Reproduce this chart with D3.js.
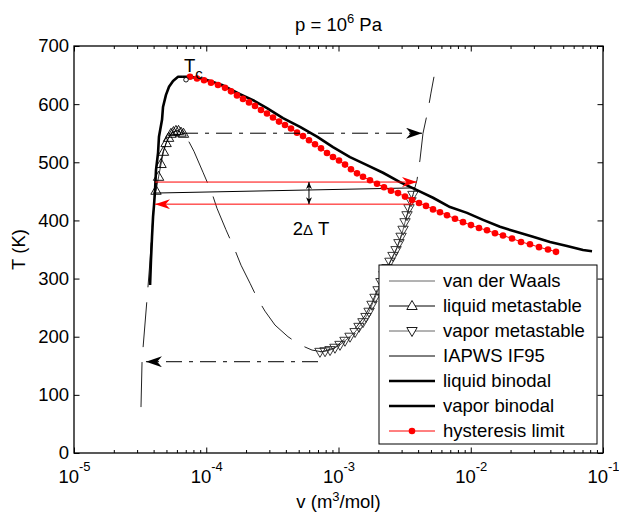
<!DOCTYPE html>
<html>
<head>
<meta charset="utf-8">
<script src="https://cdn.jsdelivr.net/npm/d3@7"></script>
<style>
  body { margin: 0; background: #fff; }
  svg { display: block; font-family: "Liberation Sans", Arial, Helvetica, sans-serif; }
</style>
</head>
<body>
<div id="chart"></div>
<script>
/* Data: v in m^3/mol, T in K */
const vdwV = [3.21e-5, 3.27e-5, 3.33e-5, 3.56e-5, 3.76e-5, 3.95e-5, 4.09e-5, 4.25e-5, 4.47e-5, 4.71e-5,
  5.05e-5, 5.41e-5, 5.81e-5, 6.22e-5, 6.79e-5, 7.41e-5, 8.07e-5, 9.44e-5, 1.104e-4, 1.205e-4,
  1.409e-4, 1.648e-4, 1.832e-4, 2.143e-4, 2.421e-4, 2.780e-4, 3.311e-4, 4.150e-4, 5.117e-4, 6.310e-4,
  7.499e-4, 9.397e-4, 1.159e-3, 1.380e-3, 1.585e-3, 1.791e-3, 1.991e-3, 2.208e-3, 2.541e-3, 2.767e-3,
  2.972e-3, 3.184e-3, 3.412e-3, 3.656e-3, 3.926e-3, 4.130e-3, 4.355e-3, 4.753e-3, 5.000e-3, 5.272e-3]
const vdwT = [79, 157, 182, 263, 332, 406, 447, 470, 495, 518,
  537, 549, 554, 554, 547, 535, 519, 483, 447, 421,
  384, 349, 323, 292, 267, 244, 220, 200, 186, 177,
  174, 181, 200, 218, 236, 258, 284, 306, 335, 353,
  373, 397, 421, 444, 470, 504, 550, 590, 619, 647]

const liqMetaV = [4.17e-5, 4.36e-5, 4.55e-5, 4.75e-5, 4.97e-5, 5.19e-5, 5.41e-5, 5.65e-5, 5.90e-5, 6.17e-5, 6.44e-5, 6.73e-5]
const liqMetaT = [451, 475, 497, 518, 533, 542, 549, 552, 554, 554, 551, 549]

const vapMetaV = [7.24e-4, 7.91e-4, 8.63e-4, 9.40e-4, 1.026e-3, 1.119e-3, 1.222e-3, 1.334e-3, 1.429e-3, 1.531e-3,
  1.614e-3, 1.703e-3, 1.791e-3, 1.888e-3, 1.991e-3, 2.094e-3, 2.208e-3, 2.328e-3, 2.449e-3, 2.582e-3,
  2.723e-3, 2.864e-3, 2.972e-3, 3.077e-3, 3.184e-3, 3.296e-3, 3.412e-3, 3.532e-3, 3.656e-3]
const vapMetaT = [174, 175, 177, 181, 186, 193, 200, 208, 217, 225,
  234, 243, 255, 267, 280, 294, 306, 318, 329, 339,
  349, 361, 372, 384, 397, 409, 421, 433, 444]

const iapwsV = [3.96e-5, 3.79e-3]
const iapwsT = [447, 456]

const liqBinV = [6.56e-5, 6.12e-5, 5.61e-5, 5.23e-5, 4.96e-5, 4.71e-5, 4.63e-5, 4.39e-5, 4.32e-5, 4.17e-5, 4.10e-5, 4.03e-5, 3.96e-5, 3.89e-5, 3.82e-5, 3.76e-5]
const liqBinT = [647, 647, 640, 630, 616, 595, 573, 544, 516, 487, 452, 427, 406, 372, 332, 289]

const vapBinV = [6.56e-5, 7.54e-5, 9.96e-5, 1.315e-4, 1.799e-4, 2.257e-4, 2.879e-4, 3.804e-4, 5.116e-4, 6.879e-4,
  9.087e-4, 1.222e-3, 1.643e-3, 2.170e-3, 2.917e-3, 3.924e-3, 5.183e-3, 6.968e-3, 9.368e-3, 1.238e-2,
  1.664e-2, 2.237e-2, 2.956e-2, 3.975e-2, 5.344e-2, 7.062e-2, 8.259e-2]
const vapBinT = [647, 647, 642, 633, 617, 607, 593, 576, 561, 544,
  526, 509, 495, 482, 466, 452, 439, 423, 413, 401,
  389, 380, 372, 363, 356, 349, 347]

const hystV = [7.54e-5, 8.51e-5, 9.62e-5, 1.086e-4, 1.227e-4, 1.386e-4, 1.539e-4, 1.708e-4, 1.896e-4, 2.105e-4,
  2.337e-4, 2.594e-4, 2.879e-4, 3.196e-4, 3.549e-4, 3.939e-4, 4.374e-4, 4.856e-4, 5.390e-4, 5.984e-4,
  6.643e-4, 7.375e-4, 8.185e-4, 9.087e-4, 1.009e-3, 1.120e-3, 1.243e-3, 1.380e-3, 1.532e-3, 1.731e-3,
  1.955e-3, 2.208e-3, 2.495e-3, 2.818e-3, 3.184e-3, 3.596e-3, 4.062e-3, 4.588e-3, 5.183e-3, 5.855e-3,
  6.614e-3, 7.602e-3, 8.738e-3, 1.004e-2, 1.154e-2, 1.327e-2, 1.525e-2, 1.753e-2, 2.051e-2, 2.399e-2,
  2.805e-2, 3.282e-2, 3.838e-2, 4.412e-2]
const hystT = [647, 644, 641, 637, 633, 628, 622, 615, 609, 603,
  597, 590, 584, 577, 570, 564, 558, 551, 545, 538,
  531, 524, 516, 509, 503, 496, 488, 481, 475, 469,
  463, 457, 451, 447, 441, 435, 430, 425, 419, 414,
  409, 403, 397, 392, 387, 383, 378, 374, 369, 363,
  359, 354, 350, 346]

/* annotations: [vStart, vEnd, T] */
const hystUpArrow = [4.10e-5, 3.92e-3, 466]
const hystDownArrow = [3.66e-3, 4.10e-5, 428]
const liqJumpArrow = [6.56e-5, 4.28e-3, 550]
const vapJumpArrow = [7.0e-4, 3.50e-5, 157]
const deltaArrow = [5.98e-4, 466, 428]   // v, T1, T2
const deltaLabel = [6.2e-4, 375]
const critPoint = [7.03e-5, 642]

const xTicks = [1e-5, 1e-4, 1e-3, 1e-2, 1e-1]
const xTickExp = ["-5", "-4", "-3", "-2", "-1"]
const yTicks = [0, 100, 200, 300, 400, 500, 600, 700]
const legendLabels = ["van der Waals", "liquid metastable", "vapor metastable", "IAPWS IF95",
  "liquid binodal", "vapor binodal", "hysteresis limit"]

/* Layout */
const WIDTH = 619
const HEIGHT = 515
const AX = {left: 74, right: 603, top: 46, bottom: 453}
const FONT = 18.5
const TICK = 5.5
const MINOR = 3

const svg = d3.select("#chart").append("svg")
  .attr("width", WIDTH)
  .attr("height", HEIGHT)

const x = d3.scaleLog().domain([1e-5, 1e-1]).range([AX.left, AX.right])
const y = d3.scaleLinear().domain([0, 700]).range([AX.bottom, AX.top])
const line = d3.line().x(d => x(d[0])).y(d => y(d[1]))

const defs = svg.append("defs")
defs.append("clipPath").attr("id", "plotclip")
  .append("rect")
  .attr("x", AX.left).attr("y", AX.top)
  .attr("width", AX.right - AX.left).attr("height", AX.bottom - AX.top)

const addHead = (id, w, h, color, orient) => {
  defs.append("marker")
    .attr("id", id)
    .attr("viewBox", `0 0 ${w} ${h}`)
    .attr("markerWidth", w).attr("markerHeight", h)
    .attr("markerUnits", "userSpaceOnUse")
    .attr("refX", w).attr("refY", h / 2)
    .attr("orient", orient)
    .append("path")
    .attr("d", `M0,0 L${w},${h / 2} L0,${h} L${w * 0.3},${h / 2} Z`)
    .attr("fill", color)
}
addHead("headBlack", 16, 11, "#000", "auto")
addHead("headRed", 15, 10, "#f00", "auto")
addHead("headSmall", 7, 6, "#000", "auto-start-reverse")

const triUp = "M0,-5.5L5.2,3.5L-5.2,3.5Z"
const triDown = "M0,5.5L5.2,-3.5L-5.2,-3.5Z"

const plot = svg.append("g").attr("clip-path", "url(#plotclip)")

/* van der Waals isobar (long dashes) */
plot.append("path")
  .datum(d3.zip(vdwV, vdwT))
  .attr("d", line)
  .attr("fill", "none")
  .attr("stroke", "#222")
  .attr("stroke-width", 1)
  .attr("stroke-dasharray", "45,15")

/* metastable branches */
plot.append("path")
  .datum(d3.zip(liqMetaV, liqMetaT))
  .attr("d", line)
  .attr("fill", "none").attr("stroke", "#000").attr("stroke-width", 0.8)
plot.selectAll(".liqmeta")
  .data(d3.zip(liqMetaV, liqMetaT))
  .enter().append("path")
  .attr("class", "liqmeta")
  .attr("transform", d => `translate(${x(d[0])},${y(d[1])})`)
  .attr("d", triUp)
  .attr("fill", "none").attr("stroke", "#000").attr("stroke-width", 0.9)

plot.append("path")
  .datum(d3.zip(vapMetaV, vapMetaT))
  .attr("d", line)
  .attr("fill", "none").attr("stroke", "#333").attr("stroke-width", 0.8)
plot.selectAll(".vapmeta")
  .data(d3.zip(vapMetaV, vapMetaT))
  .enter().append("path")
  .attr("class", "vapmeta")
  .attr("transform", d => `translate(${x(d[0])},${y(d[1])})`)
  .attr("d", triDown)
  .attr("fill", "none").attr("stroke", "#222").attr("stroke-width", 0.9)

/* IAPWS isobar */
plot.append("path")
  .datum(d3.zip(iapwsV, iapwsT))
  .attr("d", line)
  .attr("fill", "none").attr("stroke", "#000").attr("stroke-width", 1)

/* binodals */
plot.append("path")
  .datum(d3.zip(liqBinV, liqBinT))
  .attr("d", line)
  .attr("fill", "none").attr("stroke", "#000").attr("stroke-width", 2.6)
  .attr("stroke-linejoin", "round")
plot.append("path")
  .datum(d3.zip(vapBinV, vapBinT))
  .attr("d", line)
  .attr("fill", "none").attr("stroke", "#000").attr("stroke-width", 2.6)
  .attr("stroke-linejoin", "round")

/* hysteresis limit */
plot.append("path")
  .datum(d3.zip(hystV, hystT))
  .attr("d", line)
  .attr("fill", "none").attr("stroke", "#f00").attr("stroke-width", 1)
plot.selectAll(".hyst")
  .data(d3.zip(hystV, hystT))
  .enter().append("circle")
  .attr("class", "hyst")
  .attr("cx", d => x(d[0])).attr("cy", d => y(d[1]))
  .attr("r", 3.3)
  .attr("fill", "#f00")

/* arrows */
const arrow = (a, color, head, dash) => {
  plot.append("path")
    .datum([[a[0], a[2]], [a[1], a[2]]])
    .attr("d", line)
    .attr("fill", "none")
    .attr("stroke", color)
    .attr("stroke-width", 1)
    .attr("stroke-dasharray", dash)
    .attr("marker-end", `url(#${head})`)
}
arrow(hystUpArrow, "#f00", "headRed", null)
arrow(hystDownArrow, "#f00", "headRed", null)
arrow(liqJumpArrow, "#000", "headBlack", "16,7,4,7")
arrow(vapJumpArrow, "#000", "headBlack", "16,7,4,7")

plot.append("path")
  .datum([[deltaArrow[0], deltaArrow[1]], [deltaArrow[0], deltaArrow[2]]])
  .attr("d", line)
  .attr("stroke", "#000").attr("stroke-width", 1)
  .attr("marker-start", "url(#headSmall)")
  .attr("marker-end", "url(#headSmall)")

const dl = svg.append("text")
  .attr("x", x(deltaLabel[0])).attr("y", y(deltaLabel[1]))
  .attr("text-anchor", "middle")
  .attr("font-size", FONT)
dl.append("tspan").text("2")
dl.append("tspan").attr("font-size", 15).text("Δ")
dl.append("tspan").text(" T")

/* critical point */
plot.append("circle")
  .attr("cx", x(critPoint[0])).attr("cy", y(critPoint[1]))
  .attr("r", 2.3)
  .attr("fill", "#fff").attr("stroke", "#000").attr("stroke-width", 0.9)
const tc = svg.append("text")
  .attr("x", x(critPoint[0]) - 2).attr("y", y(critPoint[1]) - 8)
  .attr("font-size", FONT)
tc.append("tspan").text("T")
tc.append("tspan").attr("font-size", 15).attr("dy", 7).text("c")

/* axes */
const styleAxis = g => {
  g.attr("font-family", null).attr("font-size", FONT)
  g.select(".domain").remove()
  g.selectAll(".tick line").attr("stroke", "#000")
  g.selectAll(".tick text").attr("fill", "#000")
}
const minorTicks = []
xTicks.slice(0, -1).forEach(d => { for (let k = 2; k < 10; k++) minorTicks.push(d * k) })

svg.append("g")
  .attr("transform", `translate(${AX.left},0)`)
  .call(d3.axisLeft(y).tickValues(yTicks).tickSizeInner(-TICK).tickSizeOuter(0).tickPadding(5))
  .call(styleAxis)
svg.append("g")
  .attr("transform", `translate(${AX.right},0)`)
  .call(d3.axisRight(y).tickValues(yTicks).tickSizeInner(-TICK).tickSizeOuter(0).tickFormat(""))
  .call(styleAxis)

const xb = svg.append("g")
  .attr("transform", `translate(0,${AX.bottom})`)
  .call(d3.axisBottom(x).tickValues(xTicks).tickSizeInner(-TICK).tickSizeOuter(0).tickFormat(""))
  .call(styleAxis)
xb.selectAll(".tick text").remove()
xb.selectAll(".tick").each(function (d, i) {
  const t = d3.select(this).append("text")
    .attr("y", 30).attr("text-anchor", "middle").attr("fill", "#000")
  t.append("tspan").text("10")
  t.append("tspan").attr("font-size", 13).attr("dy", -12).text(xTickExp[i])
})
svg.append("g")
  .attr("transform", `translate(0,${AX.bottom})`)
  .call(d3.axisBottom(x).tickValues(minorTicks).tickSizeInner(-MINOR).tickSizeOuter(0).tickFormat(""))
  .call(styleAxis)
svg.append("g")
  .attr("transform", `translate(0,${AX.top})`)
  .call(d3.axisTop(x).tickValues(xTicks).tickSizeInner(-TICK).tickSizeOuter(0).tickFormat(""))
  .call(styleAxis)
svg.append("g")
  .attr("transform", `translate(0,${AX.top})`)
  .call(d3.axisTop(x).tickValues(minorTicks).tickSizeInner(-MINOR).tickSizeOuter(0).tickFormat(""))
  .call(styleAxis)

svg.append("rect")
  .attr("x", AX.left).attr("y", AX.top)
  .attr("width", AX.right - AX.left).attr("height", AX.bottom - AX.top)
  .attr("fill", "none").attr("stroke", "#000").attr("stroke-width", 1.3)

/* title and axis labels */
const title = svg.append("text")
  .attr("x", (AX.left + AX.right) / 2).attr("y", 31)
  .attr("text-anchor", "middle").attr("font-size", FONT)
title.append("tspan").text("p = 10")
title.append("tspan").attr("font-size", 13).attr("dy", -8).text("6")
title.append("tspan").attr("dy", 8).text(" Pa")

const xl = svg.append("text")
  .attr("x", (AX.left + AX.right) / 2).attr("y", 508)
  .attr("text-anchor", "middle").attr("font-size", FONT)
xl.append("tspan").text("v (m")
xl.append("tspan").attr("font-size", 13).attr("dy", -7).text("3")
xl.append("tspan").attr("dy", 7).text("/mol)")

svg.append("text")
  .attr("transform", `translate(25,${(AX.top + AX.bottom) / 2}) rotate(-90)`)
  .attr("text-anchor", "middle").attr("font-size", FONT)
  .text("T (K)")

/* legend */
const LEG = {x: 379, y: 265, w: 218, h: 179, row: 25, first: 16, lx1: 10, lx2: 56, tx: 64}
const legend = svg.append("g").attr("transform", `translate(${LEG.x},${LEG.y})`)
legend.append("rect")
  .attr("width", LEG.w).attr("height", LEG.h)
  .attr("fill", "#fff").attr("stroke", "#000").attr("stroke-width", 1)
const legendStyle = [
  {stroke: "#666", width: 1, marker: null},
  {stroke: "#000", width: 1, marker: "up"},
  {stroke: "#666", width: 1, marker: "down"},
  {stroke: "#000", width: 1, marker: null},
  {stroke: "#000", width: 2.6, marker: null},
  {stroke: "#000", width: 2.6, marker: null},
  {stroke: "#f00", width: 1, marker: "dot"}
]
legendLabels.forEach((label, i) => {
  const cy = LEG.first + i * LEG.row
  const s = legendStyle[i]
  legend.append("line")
    .attr("x1", LEG.lx1).attr("x2", LEG.lx2).attr("y1", cy).attr("y2", cy)
    .attr("stroke", s.stroke).attr("stroke-width", s.width)
  const mx = (LEG.lx1 + LEG.lx2) / 2
  if (s.marker === "up" || s.marker === "down") {
    legend.append("path")
      .attr("transform", `translate(${mx},${cy})`)
      .attr("d", s.marker === "up" ? triUp : triDown)
      .attr("fill", "#fff").attr("stroke", "#000").attr("stroke-width", 0.9)
  } else if (s.marker === "dot") {
    legend.append("circle").attr("cx", mx).attr("cy", cy).attr("r", 3.3).attr("fill", "#f00")
  }
  legend.append("text")
    .attr("x", LEG.tx).attr("y", cy).attr("dy", "0.35em")
    .attr("font-size", FONT)
    .text(label)
})
</script>
</body>
</html>
